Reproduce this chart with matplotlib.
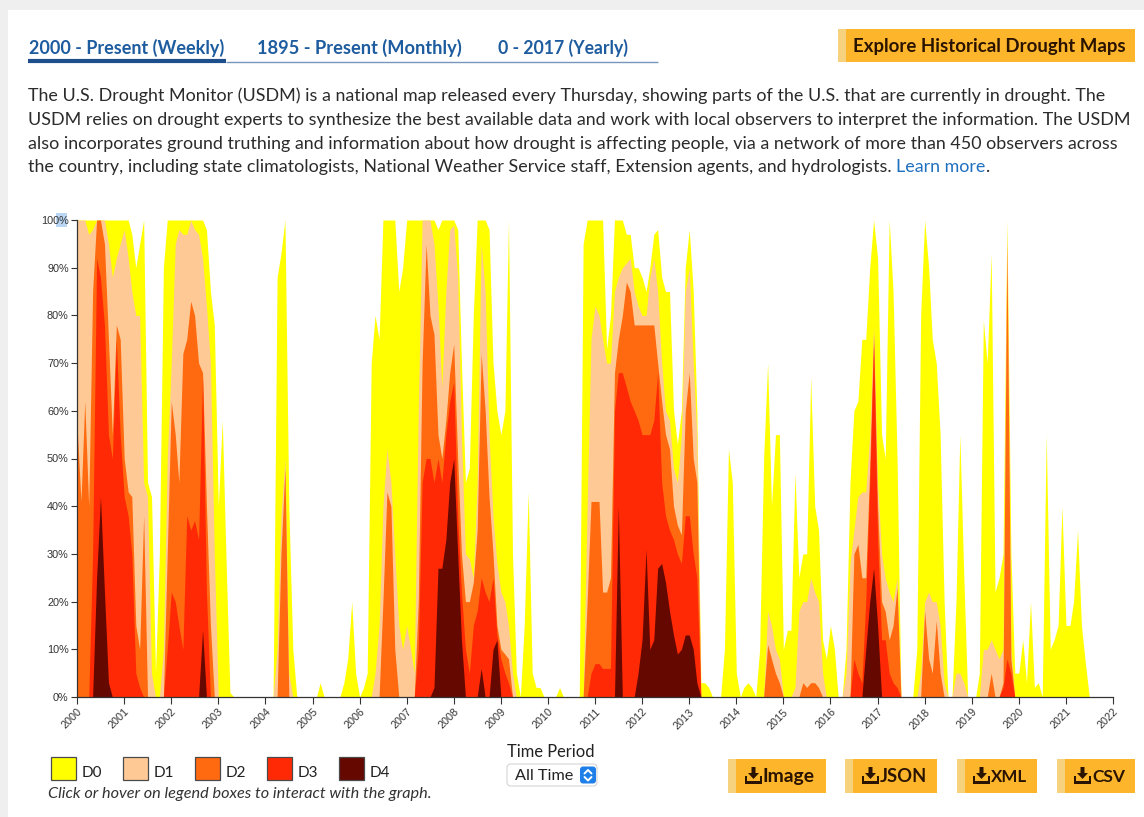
import matplotlib
matplotlib.use("Agg")
import matplotlib.pyplot as plt
import matplotlib.patches as mpatches
import pandas as pd
import numpy as np

# ---------------- data (cumulative % of area, monthly, Jan 2000 .. Jul 2021) -------------
d0 = [
    100, 100, 100, 100, 100, 100, 100, 100, 100, 100, 100, 100,  # 2000
    100, 100, 97, 90, 95, 100, 45, 42, 5, 30, 90, 100,            # 2001
    100, 100, 100, 100, 100, 100, 100, 100, 100, 98, 85, 78,      # 2002
    40, 58, 30, 1, 0, 0, 0, 0, 0, 0, 0, 0,                        # 2003
    0, 0, 0, 88, 93, 100, 40, 10, 0, 0, 0, 0,                     # 2004
    0, 0, 3, 0, 0, 0, 0, 0, 3, 8, 20, 5,                          # 2005
    0, 2, 5, 70, 80, 75, 100, 100, 100, 100, 85, 90,              # 2006
    100, 100, 100, 100, 100, 100, 100, 100, 98, 100, 100, 100,    # 2007
    100, 98, 70, 45, 48, 80, 100, 100, 100, 98, 70, 60,           # 2008
    55, 60, 100, 30, 5, 0, 15, 43, 5, 2, 2, 0,                    # 2009
    0, 0, 0, 2, 0, 0, 0, 0, 0, 95, 100, 100,                      # 2010
    100, 100, 100, 73, 80, 100, 100, 100, 97, 97, 90, 90,         # 2011
    88, 85, 90, 97, 98, 88, 85, 85, 60, 53, 60, 90,               # 2012
    98, 85, 60, 3, 3, 2, 0, 0, 0, 10, 52, 45,                     # 2013
    5, 0, 2, 3, 2, 0, 10, 50, 70, 40, 55, 55,                     # 2014
    10, 14, 14, 47, 25, 30, 30, 67, 40, 35, 12, 8,                # 2015
    15, 10, 0, 0, 10, 45, 60, 62, 75, 75, 90, 100,                # 2016
    92, 55, 50, 100, 85, 50, 0, 0, 0, 0, 10, 80,                  # 2017
    100, 90, 75, 70, 55, 20, 0, 0, 20, 55, 25, 0,                 # 2018
    0, 0, 5, 79, 70, 93, 22, 25, 30, 100, 30, 5,                  # 2019
    5, 12, 3, 20, 2, 3, 0, 55, 10, 12, 15, 40,                    # 2020
    15, 15, 20, 35, 15, 7, 0,                                     # 2021
]
d1 = [
    100, 100, 100, 97, 98, 100, 100, 100, 95, 88, 92, 95,         # 2000
    98, 92, 85, 80, 80, 45, 42, 5, 0, 0, 10, 50,                  # 2001
    70, 95, 98, 97, 97, 100, 98, 97, 92, 82, 70, 30,              # 2002
    0, 0, 0, 0, 0, 0, 0, 0, 0, 0, 0, 0,                           # 2003
    0, 0, 0, 10, 38, 50, 5, 0, 0, 0, 0, 0,                        # 2004
    0, 0, 0, 0, 0, 0, 0, 0, 0, 0, 0, 0,                           # 2005
    0, 0, 0, 0, 5, 15, 40, 52, 45, 30, 15, 10,                    # 2006
    15, 10, 5, 60, 100, 100, 100, 95, 82, 65, 85, 98,             # 2007
    99, 88, 55, 30, 29, 25, 45, 95, 85, 55, 38, 28,               # 2008
    22, 20, 15, 5, 0, 0, 0, 0, 0, 0, 0, 0,                        # 2009
    0, 0, 0, 0, 0, 0, 0, 0, 0, 0, 40, 75,                         # 2010
    82, 80, 75, 70, 70, 85, 88, 90, 91, 92, 85, 82,               # 2011
    80, 80, 88, 92, 85, 70, 60, 58, 48, 45, 55, 85,               # 2012
    90, 70, 55, 0, 0, 0, 0, 0, 0, 0, 0, 0,                        # 2013
    0, 0, 0, 0, 0, 0, 0, 0, 18, 15, 10, 8,                        # 2014
    0, 0, 0, 2, 18, 20, 20, 25, 22, 20, 5, 0,                     # 2015
    0, 0, 0, 0, 5, 28, 35, 42, 43, 43, 55, 78,                    # 2016
    45, 30, 25, 22, 20, 25, 0, 0, 0, 0, 0, 5,                     # 2017
    20, 22, 20, 20, 15, 3, 0, 0, 5, 5, 3, 0,                      # 2018
    0, 0, 0, 10, 10, 12, 10, 8, 10, 98, 10, 0,                    # 2019
    0, 0, 0, 0, 0, 0, 0, 0, 0, 0, 0, 0,                           # 2020
    0, 0, 0, 0, 0, 0, 0,                                          # 2021
]
d2 = [
    57, 41, 62, 40, 85, 100, 100, 95, 75, 55, 78, 75,             # 2000
    50, 43, 42, 15, 10, 38, 0, 0, 0, 0, 0, 30,                    # 2001
    62, 55, 45, 72, 75, 83, 80, 70, 68, 40, 15, 0,                # 2002
    0, 0, 0, 0, 0, 0, 0, 0, 0, 0, 0, 0,                           # 2003
    0, 0, 0, 0, 30, 48, 0, 0, 0, 0, 0, 0,                         # 2004
    0, 0, 0, 0, 0, 0, 0, 0, 0, 0, 0, 0,                           # 2005
    0, 0, 0, 0, 0, 0, 20, 43, 40, 10, 0, 0,                       # 2006
    0, 0, 0, 20, 70, 95, 80, 76, 55, 50, 58, 68,                  # 2007
    74, 50, 30, 20, 20, 24, 35, 72, 60, 42, 30, 15,               # 2008
    10, 9, 8, 0, 0, 0, 0, 0, 0, 0, 0, 0,                          # 2009
    0, 0, 0, 0, 0, 0, 0, 0, 0, 0, 20, 41,                         # 2010
    41, 41, 22, 22, 25, 68, 75, 80, 87, 85, 78, 78,               # 2011
    78, 78, 78, 78, 70, 62, 55, 52, 40, 36, 34, 60,               # 2012
    68, 50, 45, 0, 0, 0, 0, 0, 0, 0, 0, 0,                        # 2013
    0, 0, 0, 0, 0, 0, 0, 0, 11, 8, 5, 3,                          # 2014
    0, 0, 0, 0, 0, 3, 2, 3, 3, 2, 0, 0,                           # 2015
    0, 0, 0, 0, 0, 0, 30, 32, 25, 25, 48, 76,                     # 2016
    40, 20, 18, 12, 15, 23, 0, 0, 0, 0, 0, 0,                     # 2017
    18, 8, 5, 16, 5, 0, 0, 0, 0, 0, 0, 0,                         # 2018
    0, 0, 0, 0, 0, 5, 0, 0, 3, 95, 8, 0,                          # 2019
    0, 0, 0, 0, 0, 0, 0, 0, 0, 0, 0, 0,                           # 2020
    0, 0, 0, 0, 0, 0, 0,                                          # 2021
]
d3 = [
    0, 0, 0, 0, 30, 92, 88, 78, 55, 50, 75, 55,                   # 2000
    42, 38, 30, 5, 2, 0, 0, 0, 0, 0, 0, 10,                       # 2001
    22, 20, 15, 10, 38, 35, 37, 33, 67, 22, 0, 0,                 # 2002
    0, 0, 0, 0, 0, 0, 0, 0, 0, 0, 0, 0,                           # 2003
    0, 0, 0, 0, 0, 0, 0, 0, 0, 0, 0, 0,                           # 2004
    0, 0, 0, 0, 0, 0, 0, 0, 0, 0, 0, 0,                           # 2005
    0, 0, 0, 0, 0, 0, 0, 0, 0, 0, 0, 0,                           # 2006
    0, 0, 0, 10, 45, 50, 50, 45, 50, 45, 55, 62,                  # 2007
    66, 38, 22, 10, 5, 15, 18, 25, 22, 20, 25, 13,                # 2008
    8, 5, 3, 0, 0, 0, 0, 0, 0, 0, 0, 0,                           # 2009
    0, 0, 0, 0, 0, 0, 0, 0, 0, 0, 0, 5,                           # 2010
    7, 7, 6, 6, 6, 60, 68, 68, 65, 62, 60, 58,                    # 2011
    55, 55, 55, 58, 68, 45, 38, 35, 33, 30, 28, 38,               # 2012
    38, 30, 25, 0, 0, 0, 0, 0, 0, 0, 0, 0,                        # 2013
    0, 0, 0, 0, 0, 0, 0, 0, 0, 0, 0, 0,                           # 2014
    0, 0, 0, 0, 0, 0, 0, 0, 0, 0, 0, 0,                           # 2015
    0, 0, 0, 0, 0, 0, 8, 5, 3, 20, 45, 74,                        # 2016
    33, 12, 12, 5, 3, 2, 0, 0, 0, 0, 0, 0,                        # 2017
    0, 0, 0, 0, 0, 0, 0, 0, 0, 0, 0, 0,                           # 2018
    0, 0, 0, 0, 0, 0, 0, 0, 2, 8, 5, 0,                           # 2019
    0, 0, 0, 0, 0, 0, 0, 0, 0, 0, 0, 0,                           # 2020
    0, 0, 0, 0, 0, 0, 0,                                          # 2021
]
d4 = [
    0, 0, 0, 0, 0, 25, 42, 22, 3, 0, 0, 0,                        # 2000
    0, 0, 0, 0, 0, 0, 0, 0, 0, 0, 0, 0,                           # 2001
    0, 0, 0, 0, 0, 0, 0, 0, 14, 0, 0, 0,                          # 2002
    0, 0, 0, 0, 0, 0, 0, 0, 0, 0, 0, 0,                           # 2003
    0, 0, 0, 0, 0, 0, 0, 0, 0, 0, 0, 0,                           # 2004
    0, 0, 0, 0, 0, 0, 0, 0, 0, 0, 0, 0,                           # 2005
    0, 0, 0, 0, 0, 0, 0, 0, 0, 0, 0, 0,                           # 2006
    0, 0, 0, 0, 0, 0, 0, 2, 27, 27, 33, 45,                       # 2007
    50, 30, 12, 0, 0, 0, 0, 6, 0, 0, 10, 12,                      # 2008
    0, 0, 0, 0, 0, 0, 0, 0, 0, 0, 0, 0,                           # 2009
    0, 0, 0, 0, 0, 0, 0, 0, 0, 0, 0, 0,                           # 2010
    0, 0, 0, 0, 0, 0, 40, 0, 0, 0, 0, 5,                          # 2011
    12, 31, 10, 12, 27, 28, 24, 18, 13, 9, 10, 13,                # 2012
    13, 10, 3, 0, 0, 0, 0, 0, 0, 0, 0, 0,                         # 2013
    0, 0, 0, 0, 0, 0, 0, 0, 0, 0, 0, 0,                           # 2014
    0, 0, 0, 0, 0, 0, 0, 0, 0, 0, 0, 0,                           # 2015
    0, 0, 0, 0, 0, 0, 0, 0, 0, 10, 20, 27,                        # 2016
    15, 0, 0, 0, 0, 0, 0, 0, 0, 0, 0, 0,                          # 2017
    0, 0, 0, 0, 0, 0, 0, 0, 0, 0, 0, 0,                           # 2018
    0, 0, 0, 0, 0, 0, 0, 0, 0, 0, 0, 0,                           # 2019
    0, 0, 0, 0, 0, 0, 0, 0, 0, 0, 0, 0,                           # 2020
    0, 0, 0, 0, 0, 0, 0,                                          # 2021
]
series_names = ["D0", "D1", "D2", "D3", "D4"]
series_colors = ["#FFFF00", "#FFC995", "#FF6A10", "#FF2A05", "#650800"]
y_ticks = [0, 10, 20, 30, 40, 50, 60, 70, 80, 90, 100]
y_tick_labels = ["0%", "10%", "20%", "30%", "40%", "50%", "60%", "70%", "80%", "90%", "100%"]
x_years = list(range(2000, 2023))
tab_labels = ["2000 - Present (Weekly)", "1895 - Present (Monthly)", "0 - 2017 (Yearly)"]
paragraph = [
    "The U.S. Drought Monitor (USDM) is a national map released every Thursday, showing parts of the U.S. that are currently in drought. The",
    "USDM relies on drought experts to synthesize the best available data and work with local observers to interpret the information. The USDM",
    "also incorporates ground truthing and information about how drought is affecting people, via a network of more than 450 observers across",
    "the country, including state climatologists, National Weather Service staff, Extension agents, and hydrologists. ",
]
button_labels = ["Image", "JSON", "XML", "CSV"]

for s in (d1, d2, d3, d4):
    assert len(s) == len(d0)

# ---------------- figure & UI layer ----------------
W, H = 1144, 817
fig = plt.figure(figsize=(W / 100, H / 100), dpi=100)
fig.patch.set_facecolor("white")
ui = fig.add_axes([0, 0, 1, 1], zorder=0)
ui.set_xlim(0, W)
ui.set_ylim(H, 0)
ui.axis("off")
renderer = fig.canvas.get_renderer()

FONT = "Lato"


def fit_text(x, y, s, width, **kw):
    kw.setdefault("family", FONT)
    t = ui.text(x, y, s, **kw)
    bb = t.get_window_extent(renderer=renderer)
    t.set_fontsize(t.get_fontsize() * width / bb.width)
    return t


# page background strips
ui.add_patch(mpatches.Rectangle((0, 0), W, 10, color="#efefef", lw=0))
ui.add_patch(mpatches.Rectangle((0, 0), 8, H, color="#efefef", lw=0))

# tabs
tab_x = [29, 257, 498]
tab_w = [196, 205, 131]
for lab, x, w in zip(tab_labels, tab_x, tab_w):
    fit_text(x, 48, lab, w, color="#1d5c9e", weight="bold", va="center", ha="left")
ui.plot([28, 226], [61, 61], lw=3, color="#1d4f8c", solid_capstyle="butt")
ui.plot([226, 658], [61.5, 61.5], lw=1, color="#7896bb", solid_capstyle="butt")

# explore button
ui.add_patch(mpatches.Rectangle((838, 29), 297, 33, color="#FDB62C", lw=0))
ui.add_patch(mpatches.Rectangle((838, 29), 8, 33, color="#F7D27E", lw=0))
fit_text(853, 46, "Explore Historical Drought Maps", 272, color="#2a1400",
         weight="bold", va="center", ha="left")

# paragraph
line_y = [96, 120, 144, 167]
ref = ui.text(28, line_y[0], paragraph[0], family=FONT, fontsize=11)
bb = ref.get_window_extent(renderer=renderer)
fs = 11 * 1075 / bb.width
ref.remove()
last = None
for s, y in zip(paragraph, line_y):
    last = ui.text(28, y, s, family=FONT, fontsize=fs, color="#2b2b2b", va="center", ha="left")
bb = last.get_window_extent(renderer=renderer)
x_end = bb.x1
lm = ui.text(x_end, line_y[3], "Learn more", family=FONT, fontsize=fs, color="#2070c0",
             va="center", ha="left")
bb2 = lm.get_window_extent(renderer=renderer)
ui.text(bb2.x1, line_y[3], ".", family=FONT, fontsize=fs, color="#2b2b2b", va="center", ha="left")

# legend
for i, (name, col) in enumerate(zip(series_names, series_colors)):
    x = 51 + 72 * i
    ui.add_patch(mpatches.Rectangle((x, 757), 25, 23, facecolor=col, edgecolor="#4a4a4a", lw=0.9))
    ui.text(x + 31, 773, name, family=FONT, fontsize=11, color="#222222", va="center", ha="left")
fit_text(48, 794, "Click or hover on legend boxes to interact with the graph.", 384,
         color="#333333", style="italic", va="center", ha="left")

# time period selector
fit_text(551, 752, "Time Period", 88, color="#222222", va="center", ha="center")
ui.add_patch(mpatches.FancyBboxPatch((507, 764), 90, 22, boxstyle="round,pad=0,rounding_size=4",
                                     facecolor="white", edgecolor="#d4d4d4", lw=0.8))
fit_text(515, 775.5, "All Time", 58, color="#222222", va="center", ha="left")
ui.add_patch(mpatches.FancyBboxPatch((580, 766.5), 16, 17, boxstyle="round,pad=0,rounding_size=3",
                                     facecolor="#1f7fe8", edgecolor="none"))
ui.plot([584.5, 588, 591.5], [773.5, 770, 773.5], color="white", lw=1.4, solid_capstyle="round")
ui.plot([584.5, 588, 591.5], [777, 780.5, 777], color="white", lw=1.4, solid_capstyle="round")

# download buttons
btn_geom = [(728, 826, 763, 815), (845, 937, 880, 927), (957, 1037, 991, 1027), (1057, 1135, 1092, 1125)]
for lab, (x0, x1, tx0, tx1) in zip(button_labels, btn_geom):
    ui.add_patch(mpatches.Rectangle((x0, 759), x1 - x0, 34, color="#FDB62C", lw=0))
    ui.add_patch(mpatches.Rectangle((x0, 759), 8, 34, color="#F7D27E", lw=0))
    fit_text(tx0, 776.5, lab, tx1 - tx0, color="#2a1400", weight="bold", va="center", ha="left")
    # download icon
    ix = tx0 - 9.5
    ui.add_patch(mpatches.Polygon([[ix - 2, 767], [ix + 2, 767], [ix + 2, 773], [ix + 5.5, 773],
                                   [ix, 779], [ix - 5.5, 773], [ix - 2, 773]],
                                  closed=True, color="#2a1400", lw=0))
    ui.add_patch(mpatches.Polygon([[ix - 8.5, 776], [ix - 6.5, 776], [ix - 6.5, 780.5], [ix + 6.5, 780.5],
                                   [ix + 6.5, 776], [ix + 8.5, 776], [ix + 8.5, 784], [ix - 8.5, 784]],
                                  closed=True, color="#2a1400", lw=0))

# highlight behind "100%" label (text selection)
ui.add_patch(mpatches.Rectangle((56, 213), 11, 14, color="#b9d6f3", lw=0))

# ---------------- chart ----------------
x0p, x1p, y0p, y1p = 77, 1113, 697, 220
ax = fig.add_axes([x0p / W, (H - y0p) / H, (x1p - x0p) / W, (y0p - y1p) / H], zorder=1)
ax.patch.set_alpha(0)

dates = pd.date_range("2000-01-01", periods=len(d0), freq="MS")
for vals, col in zip([d0, d1, d2, d3, d4], series_colors):
    ax.fill_between(dates, 0, vals, color=col, lw=0, zorder=2)

ax.set_xlim(pd.Timestamp("2000-01-01"), pd.Timestamp("2022-01-01"))
ax.set_ylim(0, 100)
ax.set_yticks(y_ticks)
ax.set_yticklabels(y_tick_labels)
ax.set_xticks([pd.Timestamp(f"{y}-01-01") for y in x_years])
ax.set_xticklabels([str(y) for y in x_years], rotation=45, ha="right", va="top",
                   rotation_mode="anchor")
for lbl in ax.get_xticklabels() + ax.get_yticklabels():
    lbl.set_family("Liberation Sans")
    lbl.set_fontsize(7.8)
    lbl.set_color("#333333")
ax.tick_params(axis="both", length=5, width=0.8, color="#333333", pad=2)
ax.tick_params(axis="y", length=4, pad=2)
for side in ("top", "right"):
    ax.spines[side].set_visible(False)
for side in ("left", "bottom"):
    ax.spines[side].set_color("#333333")
    ax.spines[side].set_linewidth(0.9)
    ax.spines[side].set_zorder(3)

fig.savefig("out.png", dpi=100)
